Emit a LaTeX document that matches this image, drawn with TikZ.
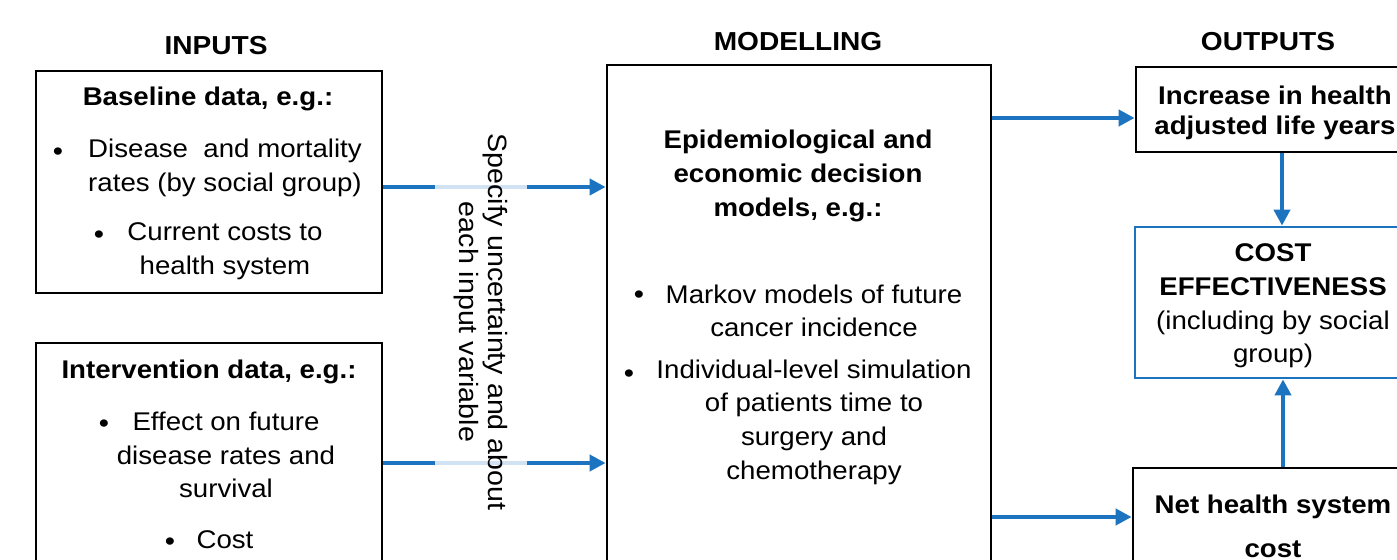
\documentclass[tikz,border=0pt]{standalone}
\usepackage{fontspec}
\setmainfont{Liberation Sans}[FakeStretch=1.08]
\usetikzlibrary{arrows.meta,fit}
\definecolor{flowblue}{RGB}{28,116,192}
\begin{document}
\begin{tikzpicture}[x=0.5pt,y=-0.5pt,
  txt/.style={font=\fontsize{12.8}{16.8}\selectfont, align=center, inner sep=0pt},
  hd/.style={txt, font=\fontsize{12.8}{16.8}\selectfont\bfseries},
  colhead/.style={font=\fontsize{13}{16}\selectfont\bfseries, inner sep=0pt},
  blackbox/.style={draw=black, line width=1.4pt, inner sep=0pt},
  bluebox/.style={draw=flowblue, line width=1.4pt, inner sep=0pt},
  arr/.style={draw=flowblue, line width=2pt, -{Triangle[length=8pt,width=8pt]}},
  dot/.style={txt, font=\fontsize{13.5}{16}\selectfont}]
\useasboundingbox (0,0) rectangle (1397,560);
\clip (0,0) rectangle (1397,560);
\fill[white] (0,0) rectangle (1397,560);

% column headings
\node[colhead] (hin) at (216,46) {INPUTS};
\node[colhead] (hmod) at (798,42) {MODELLING};
\node[colhead] (hout) at (1268,42) {OUTPUTS};

% boxes
\node[blackbox, fit={(36,71) (382,293)}] (base) {};
\node[blackbox, fit={(36,343) (382,620)}] (intv) {};
\node[blackbox, fit={(607,65) (991,620)}] (model) {};
\node[blackbox, fit={(1136,67) (1414,152)}] (inc) {};
\node[bluebox, fit={(1135,227) (1414,378)}] (ce) {};
\node[blackbox, fit={(1133,468) (1414,620)}] (net) {};

% baseline data
\node[hd] (baseh) at (208,99) {Baseline data, e.g.:};
\node[dot] (b1) at (58,154) {•};
\node[txt] (b1t) at (225,168) {Disease\ \ and mortality\\rates (by social group)};
\node[dot] (b2) at (99,237) {•};
\node[txt] (b2t) at (225,251) {Current costs to\\health system};

% intervention data
\node[hd] (intvh) at (209,372) {Intervention data, e.g.:};
\node[dot] (i1) at (104,426) {•};
\node[txt] (i1t) at (226,455) {Effect on future\\disease rates and\\survival};
\node[dot] (i2) at (170,544) {•};
\node[txt] (i2t) at (225,540) {Cost};

% models
\node[hd] (modh) at (798,176) {Epidemiological and\\economic decision\\models, e.g.:};
\node[dot] (m1) at (639,297) {•};
\node[txt] (m1t) at (814,311) {Markov models of future\\cancer incidence};
\node[dot] (m2) at (629,376) {•};
\node[txt] (m2t) at (814,422) {Individual-level simulation\\of patients time to\\surgery and\\chemotherapy};

% outputs
\node[hd, font=\fontsize{12.8}{15}\selectfont\bfseries] (inct) at (1275,113) {Increase in health\\adjusted life years};
\node[txt] (cet) at (1273,306) {\textbf{COST}\\\textbf{EFFECTIVENESS}\\(including by social\\group)};
\node[hd, font=\fontsize{12.8}{22}\selectfont\bfseries] (nett) at (1273,526) {Net health system\\cost};

% connectors
\coordinate (ya) at (0,187);
\coordinate (yb) at (0,463);
\coordinate (yc) at (0,118);
\coordinate (yd) at (0,517);
\coordinate (xa) at (1282,0);
\coordinate (xb) at (1283,0);
\draw[arr] (base.east |- ya) -- (model.west |- ya);
\draw[arr] (intv.east |- yb) -- (model.west |- yb);
\draw[arr] (model.east |- yc) -- (inc.west |- yc);
\draw[arr] (model.east |- yd) -- (net.west |- yd);
\draw[arr] (inc.south -| xa) -- (ce.north -| xa);
\draw[arr] (net.north -| xb) -- (ce.south -| xb);

% uncertainty note laid over the input arrows
\node[txt, rotate=-90, fill=white, fill opacity=0.8, text opacity=1,
      minimum height=46pt, minimum width=200pt, font=\fontsize{13.25}{14.5}\selectfont]
  (unc) at (481,322) {Specify uncertainty and about\\each input variable};
\end{tikzpicture}
\end{document}
